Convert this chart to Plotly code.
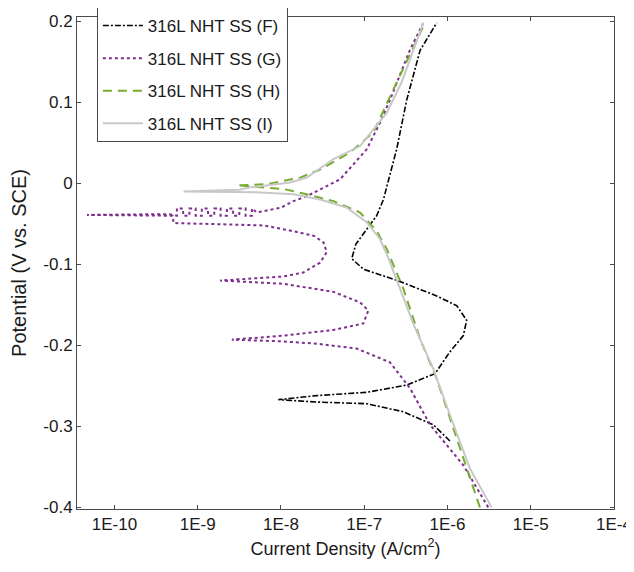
import plotly.graph_objects as go

# ---- data (current density in A/cm^2, potential in V vs. SCE) ----
f_current = [1.07e-6, 6.76e-7, 2.95e-7, 1.07e-7, 2.69e-8, 9.3e-9, 2.69e-8, 1.07e-7, 3.24e-7,
             7.08e-7, 1.07e-6, 1.55e-6, 1.70e-6, 1.29e-6, 7.41e-7, 2.51e-7, 9.77e-8, 7.08e-8,
             7.94e-8, 1.07e-7, 1.41e-7, 1.70e-7, 2.04e-7, 2.45e-7, 3.24e-7, 4.68e-7, 7.41e-7]
f_potential = [-0.318, -0.298, -0.282, -0.272, -0.270, -0.267, -0.262, -0.258, -0.249,
               -0.235, -0.208, -0.188, -0.169, -0.151, -0.139, -0.120, -0.106, -0.093,
               -0.075, -0.057, -0.040, -0.020, 0.010, 0.042, 0.103, 0.164, 0.198]

g_current = [3.09e-6, 1.55e-6, 6.17e-7, 3.55e-7, 2.04e-7, 8.13e-8, 2.69e-8, 1.0e-8, 2.57e-9,
             1.07e-8, 4.27e-8, 9.77e-8, 1.12e-7, 8.91e-8, 4.27e-8, 1.07e-8, 1.86e-9,
             6.17e-9, 1.07e-8, 1.86e-8, 2.95e-8, 3.55e-8, 3.24e-8, 2.51e-8, 1.55e-8, 6.31e-9,
             5.13e-10, 5.01e-10, 4.68e-11, 4.47e-10,
             5.62e-10, 5.62e-10, 6.68e-10, 6.68e-10, 7.94e-10, 7.94e-10, 9.44e-10, 9.44e-10,
             1.12e-9, 1.12e-9, 1.33e-9, 1.33e-9, 1.58e-9, 1.58e-9, 1.88e-9, 1.88e-9,
             2.24e-9, 2.24e-9, 2.66e-9, 2.66e-9, 3.16e-9, 3.16e-9, 3.76e-9, 3.76e-9,
             4.47e-9, 4.47e-9,
             5.13e-9, 1.0e-8, 1.41e-8, 2.04e-8, 5.13e-8, 1.07e-7, 1.55e-7, 2.04e-7, 3.55e-7, 5.13e-7]
g_potential = [-0.400, -0.348, -0.298, -0.253, -0.221, -0.204, -0.198, -0.195, -0.193,
               -0.188, -0.181, -0.173, -0.157, -0.147, -0.134, -0.124, -0.120,
               -0.116, -0.115, -0.110, -0.098, -0.085, -0.073, -0.065, -0.060, -0.052,
               -0.049, -0.040, -0.039, -0.038,
               -0.040, -0.031, -0.031, -0.040, -0.040, -0.031, -0.031, -0.040,
               -0.040, -0.031, -0.031, -0.040, -0.040, -0.031, -0.031, -0.040,
               -0.040, -0.031, -0.031, -0.040, -0.040, -0.031, -0.031, -0.040,
               -0.040, -0.031,
               -0.036, -0.030, -0.022, -0.016, 0.005, 0.042, 0.075, 0.103, 0.165, 0.198]

h_current = [2.45e-6, 1.86e-6, 1.17e-6, 7.41e-7, 4.68e-7, 2.95e-7, 1.86e-7, 1.41e-7, 8.91e-8,
             4.27e-8, 2.04e-8, 1.07e-8, 2.95e-9, 6.76e-9, 1.70e-8, 2.95e-8, 6.76e-8, 1.29e-7,
             2.24e-7, 3.55e-7, 5.37e-7]
h_potential = [-0.400, -0.364, -0.303, -0.241, -0.192, -0.130, -0.081, -0.059, -0.036,
               -0.022, -0.0135, -0.007, -0.0025, -0.001, 0.007, 0.017, 0.038, 0.063,
               0.116, 0.160, 0.198]

i_current = [3.39e-6, 1.86e-6, 1.07e-6, 6.76e-7, 3.98e-7, 2.51e-7, 1.91e-7, 1.55e-7, 1.07e-7,
             6.17e-8, 2.95e-8, 1.41e-8, 5.01e-9, 6.76e-10, 3.16e-9, 4.27e-9, 1.29e-8, 2.04e-8,
             4.27e-8, 8.91e-8, 1.86e-7, 2.82e-7, 5.13e-7]
i_potential = [-0.400, -0.352, -0.286, -0.229, -0.176, -0.122, -0.090, -0.069, -0.048,
               -0.030, -0.020, -0.0135, -0.011, -0.010, -0.008, -0.005, 0.001, 0.007,
               0.030, 0.046, 0.087, 0.125, 0.198]

series_names = ["316L NHT SS (F)", "316L NHT SS (G)", "316L NHT SS (H)", "316L NHT SS (I)"]

x_tick_vals = [1e-10, 1e-9, 1e-8, 1e-7, 1e-6, 1e-5, 1e-4]
x_tick_text = ["1E-10", "1E-9", "1E-8", "1E-7", "1E-6", "1E-5", "1E-4"]
y_tick_vals = [-0.4, -0.3, -0.2, -0.1, 0, 0.1, 0.2]
y_tick_text = ["-0.4", "-0.3", "-0.2", "-0.1", "0", "0.1", "0.2"]

# ---- figure ----
FONT = "Liberation Sans, Arial, sans-serif"
fig = go.Figure()

styles = [
    dict(color="#000000", width=1.6, dash="6px,2px,2px,2px"),
    dict(color="#7E2F8E", width=2, dash="dot"),
    dict(color="#77AC30", width=2, dash="9px,6px"),
    dict(color="#C8C8C8", width=2, dash="solid"),
]
data = [(f_current, f_potential), (g_current, g_potential),
        (h_current, h_potential), (i_current, i_potential)]

for k, ((xc, yp), name, st) in enumerate(zip(data, series_names, styles)):
    fig.add_trace(go.Scatter(x=xc, y=yp, mode="lines", name=name,
                             legendgroup=f"g{k}", line=st))

axis_common = dict(showline=True, linecolor="#4a4a4a", linewidth=1, mirror="ticks",
                   ticks="inside", ticklen=4, tickcolor="#4a4a4a", showgrid=False,
                   zeroline=False, automargin=False,
                   tickfont=dict(family=FONT, size=17, color="#1a1a1a"))

fig.update_xaxes(type="log", range=[-10.45, -4.0], tickvals=x_tick_vals, ticktext=x_tick_text,
                 title=dict(text="Current Density (A/cm<sup>2</sup>)",
                            font=dict(family=FONT, size=18, color="#1a1a1a"), standoff=8),
                 **axis_common)
fig.update_yaxes(range=[-0.402, 0.2053], tickvals=y_tick_vals, ticktext=y_tick_text,
                 title=dict(text="Potential (V vs. SCE)",
                            font=dict(family=FONT, size=20, color="#1a1a1a"), standoff=20),
                 **axis_common)

# the page body adds an 8px offset, so the figure is sized to fit the window
fig.update_layout(
    width=626, height=564,
    margin=dict(l=69, r=20, t=9, b=63, autoexpand=False),
    paper_bgcolor="white", plot_bgcolor="white",
    font=dict(family=FONT, color="#1a1a1a"),
    legend=dict(x=0.037, y=1.0203, xanchor="left", yanchor="top",
                bgcolor="white", bordercolor="#4a4a4a", borderwidth=1,
                font=dict(family=FONT, size=17, color="#1a1a1a"),
                tracegroupgap=7.5, itemwidth=40),
)

fig.write_html("out.html")
